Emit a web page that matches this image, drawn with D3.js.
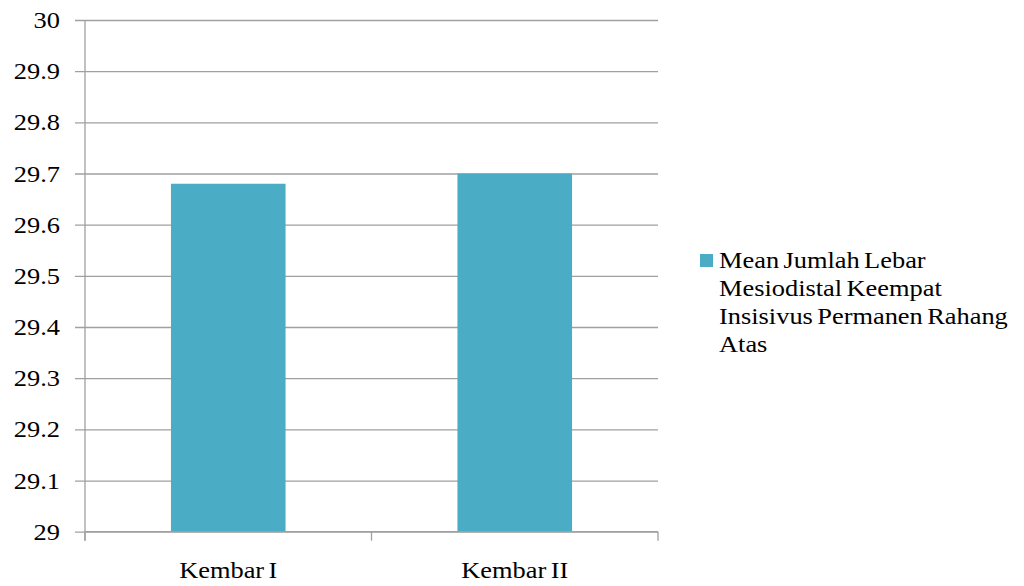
<!DOCTYPE html>
<html>
<head>
<meta charset="utf-8">
<script src="https://cdn.jsdelivr.net/npm/d3@7"></script>
<style>
  html, body { margin: 0; padding: 0; background: #fff; }
</style>
</head>
<body>
<svg id="chart" width="1024" height="586"></svg>
<script>
// Data
const categories = ["Kembar I", "Kembar II"];
const meanValues = [29.68, 29.70];
const yTicks = [29, 29.1, 29.2, 29.3, 29.4, 29.5, 29.6, 29.7, 29.8, 29.9, 30];
const seriesName = ["Mean Jumlah Lebar", "Mesiodistal Keempat", "Insisivus Permanen Rahang", "Atas"];

const FONT = '"Liberation Serif", "Times New Roman", serif';
const FONT_SIZE = 24;
const STRETCH = 1.1; // slightly widened glyphs

const svg = d3.select("#chart");
const plot = { left: 85, right: 658, top: 20, bottom: 531.7 };
const barColor = "#4bacc6";
const gridColor = "#a0a0a0";

const x = d3.scaleBand().domain(categories).range([plot.left, plot.right]).paddingInner(0.6).paddingOuter(0.3);
const xBand = d3.scaleBand().domain(categories).range([plot.left, plot.right]);
const y = d3.scaleLinear().domain([29, 30]).range([plot.bottom, plot.top]);

function label(sel, px, py) {
  return sel
    .attr("transform", (d, i) => `translate(${px(d, i)},${py(d, i)}) scale(${STRETCH},1)`)
    .style("font-family", FONT)
    .style("font-size", FONT_SIZE + "px")
    .attr("fill", "#000");
}

// Horizontal gridlines (extend 10px left of the axis as outer ticks)
const gy = svg.append("g").attr("transform", `translate(${plot.right},0)`);
gy.call(d3.axisLeft(y).tickValues(yTicks).tickSize(plot.right - plot.left + 10).tickFormat(""));
gy.select(".domain").remove();
gy.selectAll(".tick line").attr("stroke", gridColor).attr("stroke-width", 1.3);

// Y tick labels
label(svg.append("g").selectAll("text").data(yTicks).join("text"),
      () => 60, d => y(d) + 8)
  .attr("text-anchor", "end")
  .text(d3.format("~g"));

// Bars
svg.append("g").selectAll("rect").data(categories).join("rect")
  .attr("x", d => x(d))
  .attr("width", x.bandwidth())
  .attr("y", (d, i) => y(meanValues[i]))
  .attr("height", (d, i) => y(29) - y(meanValues[i]))
  .attr("fill", barColor);

// Value axis line
svg.append("line")
  .attr("x1", plot.left).attr("x2", plot.left)
  .attr("y1", plot.top).attr("y2", plot.bottom + 9)
  .attr("stroke", gridColor).attr("stroke-width", 1.3);

// Category axis
const gx = svg.append("g").attr("transform", `translate(0,${plot.bottom})`);
const boundaries = [plot.left, ...categories.map(c => xBand(c) + xBand.bandwidth())];
gx.append("line").attr("x1", plot.left).attr("x2", plot.right)
  .attr("stroke", gridColor).attr("stroke-width", 1.3);
gx.selectAll("line.tk").data(boundaries).join("line").attr("class", "tk")
  .attr("x1", d => d).attr("x2", d => d).attr("y1", 0).attr("y2", 9)
  .attr("stroke", gridColor).attr("stroke-width", 1.3);
label(gx.selectAll("text").data(categories).join("text"),
      d => xBand(d) + xBand.bandwidth() / 2, () => 46)
  .attr("text-anchor", "middle")
  .style("word-spacing", "-2px")
  .text(d => d);

// Legend
const lg = svg.append("g");
lg.append("rect").attr("x", 700).attr("y", 254).attr("width", 13).attr("height", 13).attr("fill", barColor);
label(lg.selectAll("text").data(seriesName).join("text"),
      () => 719, (d, i) => 268 + i * 28)
  .style("word-spacing", "-2px")
  .text(d => d);
</script>
</body>
</html>
